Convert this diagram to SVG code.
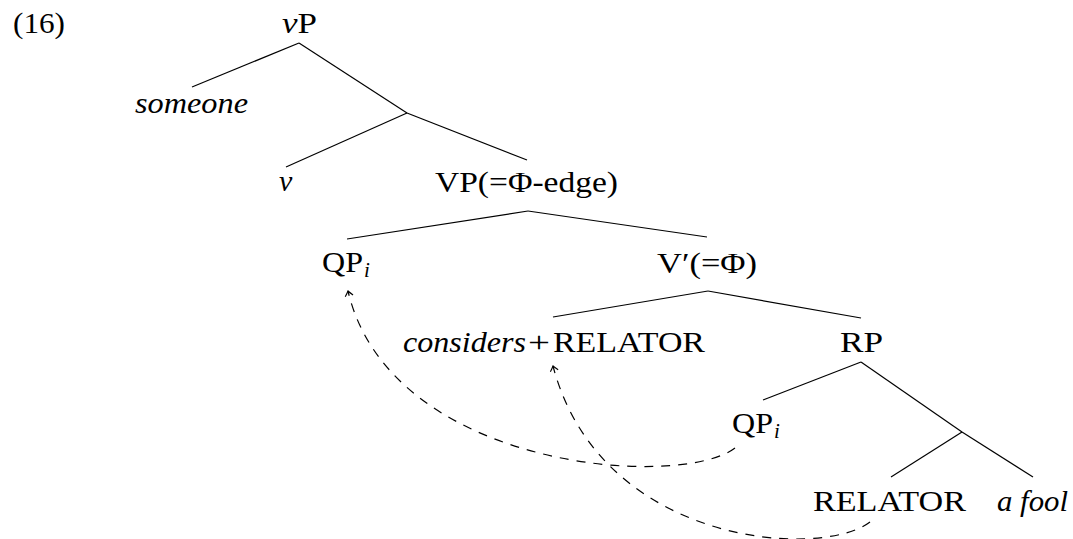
<svg xmlns="http://www.w3.org/2000/svg" width="1073" height="539" viewBox="0 0 1073 539" font-family="'Liberation Serif', 'DejaVu Serif', serif">
<style>
text{font-family:"Liberation Serif","DejaVu Serif",serif;font-size:30px;fill:#000}
.it{font-style:italic}
.sub{font-style:italic;font-size:21px}
.edge{stroke:#000;stroke-width:1.2;fill:none}
.dash{stroke:#000;stroke-width:1.2;fill:none;stroke-dasharray:9 8;marker-end:url(#to)}
</style>
<defs>
<marker id="to" markerUnits="userSpaceOnUse" markerWidth="14" markerHeight="14" viewBox="-8 -7 10 14" refX="0" refY="0" orient="auto">
<path d="M-5,-4 Q-1.5,-1 0,0 Q-1.5,1 -5,4" fill="none" stroke="#000" stroke-width="1.1" stroke-dasharray="none"/>
</marker>
</defs>
<text x="13" y="33" textLength="52" lengthAdjust="spacingAndGlyphs">(16)</text>
<g id="edges">
<path class="edge" d="M299,43 L192,87"/>
<path class="edge" d="M299,43 L407,113"/>
<path class="edge" d="M407,113 L286,167"/>
<path class="edge" d="M407,113 L527,160"/>
<path class="edge" d="M528,211 L347,239"/>
<path class="edge" d="M528,211 L707,237"/>
<path class="edge" d="M708,291 L553,317"/>
<path class="edge" d="M708,291 L861,318"/>
<path class="edge" d="M861,362 L763,400"/>
<path class="edge" d="M861,362 L962,432"/>
<path class="edge" d="M962,432 L891,477"/>
<path class="edge" d="M962,432 L1033,477"/>
<path class="dash" d="M735,448 C680,490 390,470 348,291"/>
<path class="dash" d="M870,522 C820,560 600,545 553,366"/>
</g>
<g id="n-vP"><text x="282" y="33" textLength="35" lengthAdjust="spacingAndGlyphs"><tspan class="it">v</tspan>P</text></g>
<g id="n-someone"><text class="it" x="135" y="113" textLength="113" lengthAdjust="spacingAndGlyphs">someone</text></g>
<g id="n-v"><text class="it" x="279" y="191">v</text></g>
<g id="n-VP"><text x="435" y="192" textLength="183" lengthAdjust="spacingAndGlyphs">VP(=Φ-edge)</text></g>
<g id="n-QP1"><text x="322" y="272" textLength="41" lengthAdjust="spacingAndGlyphs">QP</text><text class="sub" x="364" y="277">i</text></g>
<g id="n-Vbar"><text x="657" y="273" textLength="100" lengthAdjust="spacingAndGlyphs">V′(=Φ)</text></g>
<g id="n-considers"><text class="it" x="403" y="352" textLength="123" lengthAdjust="spacingAndGlyphs">considers</text><text x="528" y="352" textLength="22" lengthAdjust="spacingAndGlyphs">+</text><text x="553" y="352" textLength="152" lengthAdjust="spacingAndGlyphs">RELATOR</text></g>
<g id="n-RP"><text x="840" y="352" textLength="43" lengthAdjust="spacingAndGlyphs">RP</text></g>
<g id="n-QP2"><text x="732" y="433" textLength="41" lengthAdjust="spacingAndGlyphs">QP</text><text class="sub" x="774" y="438">i</text></g>
<g id="n-RELATOR"><text x="813" y="511" textLength="153" lengthAdjust="spacingAndGlyphs">RELATOR</text></g>
<g id="n-afool"><text class="it" x="997" y="511" textLength="71" lengthAdjust="spacingAndGlyphs">a fool</text></g>
</svg>
